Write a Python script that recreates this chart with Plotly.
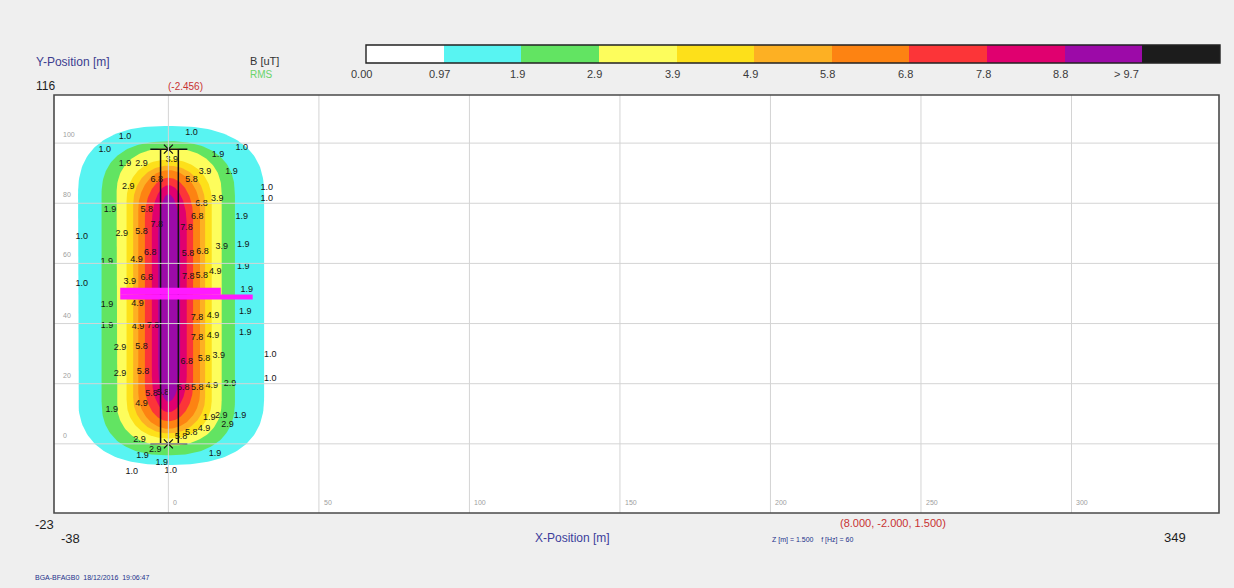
import numpy as np
import plotly.graph_objects as go

# ---- field levels (B, uT) and legend colours ----
legend_labels = ["0.00", "0.97", "1.9", "2.9", "3.9", "4.9", "5.8", "6.8", "7.8", "8.8", "> 9.7"]
legend_colors = ["#ffffff", "#58f4f2", "#62e462", "#fdfd5c", "#fde01a", "#fdb023",
                 "#fd8312", "#fc3538", "#e0006f", "#9c0aa8", "#1c1c1c"]

# ---- iso-line extents of each level boundary (metres) ----
iso_levels = [0.97, 1.9, 2.9, 3.9, 4.9, 5.8, 6.8, 7.8, 8.8]
iso_left = [-30.0, -22.2, -17.2, -13.9, -11.7, -10.0, -7.8, -5.5, -3.4]
iso_right = [31.8, 22.1, 17.7, 14.4, 12.2, 10.5, 8.2, 6.1, 3.9]
iso_top = [105.7, 100.6, 98.3, 94.5, 92.5, 91.0, 88.5, 86.0, 83.0]
iso_bottom = [-7.0, -3.8, -0.6, 1.8, 3.5, 5.0, 7.5, 10.5, 14.0]
iso_cap_top = [23, 18, 15, 14, 13, 13, 13, 13, 14]
iso_cap_bottom = [23, 18, 15, 13, 12, 12, 12, 12, 12]
iso_square = [2.5, 2.4, 2.3, 2.2, 2.1, 2.0, 2.0, 2.0, 2.0]

# ---- conductor geometry ----
wire_x = [-2.6, 3.3]
wire_y = [0.0, 98.0]
crossbar_x = [-6.0, 6.3]

# ---- profile line ----
profile_y = [50.7, 48.8]
profile_x_start = -16.0
profile_x_end = [17.4, 28.0]

# ---- iso-value labels on the map (text, x, y) ----
iso_labels = [
    ("1.0", -14.4, 102.1), ("1.0", 7.7, 103.3), ("1.0", -21.1, 97.7), ("1.0", 24.4, 98.3),
    ("1.9", -14.4, 93.3), ("2.9", -8.9, 93.3), ("3.9", 1.1, 94.4), ("1.9", 16.5, 96.1),
    ("3.9", 12.2, 90.5), ("1.9", 21.0, 90.5), ("2.9", -13.3, 85.5), ("6.8", -3.9, 87.7),
    ("5.8", 7.7, 87.7), ("1.0", 32.7, 85.0), ("1.0", 32.7, 81.6), ("3.9", 16.2, 81.6),
    ("6.8", 11.0, 80.0), ("5.8", -7.2, 77.8), ("1.9", -19.4, 77.8), ("1.9", 24.4, 75.5),
    ("6.8", 9.6, 75.5), ("7.8", 6.0, 72.0), ("7.8", -3.9, 72.8), ("1.0", -28.8, 68.9),
    ("2.9", -15.5, 70.0), ("5.8", -8.9, 70.5), ("1.9", 24.9, 66.1), ("3.9", 17.7, 65.6),
    ("6.8", 11.3, 64.0), ("5.8", 6.5, 63.2), ("6.8", -6.0, 63.6), ("4.9", -10.6, 61.2),
    ("1.9", -20.5, 60.6), ("1.9", 24.9, 58.9), ("1.0", -28.8, 53.4), ("3.9", -12.8, 53.9),
    ("6.8", -7.2, 55.3), ("7.8", 6.6, 55.4), ("5.8", 11.1, 56.0), ("4.9", 15.6, 57.2),
    ("1.9", 26.0, 51.2), ("1.9", -20.4, 46.2), ("4.9", -10.3, 46.7), ("7.8", 9.5, 41.9),
    ("4.9", 14.8, 42.5), ("1.9", 25.5, 43.9), ("1.9", -20.4, 39.4), ("4.9", -10.1, 39.0),
    ("7.8", -5.1, 39.3), ("7.8", 9.5, 35.2), ("4.9", 14.8, 35.8), ("1.9", 25.5, 36.9),
    ("2.9", -16.1, 31.8), ("5.8", -8.9, 32.3), ("6.8", 6.1, 27.2), ("5.8", 11.8, 28.2),
    ("3.9", 16.7, 29.2), ("1.0", 33.8, 29.5), ("2.9", -16.1, 23.4), ("5.8", -8.4, 24.0),
    ("1.0", 33.8, 21.8), ("5.8", 4.9, 18.5), ("5.8", 9.6, 18.8), ("4.9", 14.4, 19.4),
    ("2.9", 20.5, 20.1), ("5.8", -5.6, 16.6), ("5.8", -1.8, 16.9), ("4.9", -8.9, 13.4),
    ("1.9", -18.8, 11.3), ("1.9", 13.6, 8.8), ("2.9", 17.6, 9.4), ("2.9", 19.6, 6.2),
    ("1.9", 23.8, 9.4), ("4.9", 11.8, 5.0), ("5.8", 7.6, 3.6), ("5.8", 4.2, 2.2),
    ("2.9", -9.6, 1.2), ("2.9", -4.4, -1.9), ("1.9", -8.6, -4.1), ("1.9", 15.5, -3.2),
    ("1.9", -2.2, -6.3), ("1.0", -12.2, -9.3), ("1.0", 0.8, -8.9),
]
lbl_text = [t for t, _, _ in iso_labels]
lbl_x = [x for _, x, _ in iso_labels]
lbl_y = [y for _, _, y in iso_labels]

# ---- axes ----
x_min, x_max = -38, 349
y_min, y_max = -23, 116
x_grid = [0, 50, 100, 150, 200, 250, 300]
y_grid = [0, 20, 40, 60, 80, 100]

W, H = 1234, 588
plot_px = dict(left=54, right=1219, top=95, bottom=513)
bar_px = dict(left=366, right=1220, top=45, bottom=63)


def px_x(p):
    return p / W


def px_y(p):
    return 1 - p / H


def iso_outline(i):
    """Closed outline of one iso-level: straight flanks with rounded end caps."""
    p = 2.0 / iso_square[i]
    L, R = iso_left[i], iso_right[i]
    ys_top = iso_top[i] - iso_cap_top[i]
    ys_bot = iso_bottom[i] + iso_cap_bottom[i]
    t1 = np.linspace(0, np.pi, 90)
    c, s = np.cos(t1), np.sin(t1)
    xt = np.where(c >= 0, R, -L) * np.sign(c) * np.abs(c) ** p
    yt = ys_top + iso_cap_top[i] * np.abs(s) ** p
    t2 = np.linspace(np.pi, 2 * np.pi, 90)
    c, s = np.cos(t2), np.sin(t2)
    xb = np.where(c >= 0, R, -L) * np.sign(c) * np.abs(c) ** p
    yb = ys_bot - iso_cap_bottom[i] * np.abs(s) ** p
    xs = np.concatenate([xt, xb, xt[:1]])
    ys = np.concatenate([yt, yb, yt[:1]])
    return xs, ys


fig = go.Figure()

# filled iso-bands, outermost first
for i in range(len(iso_levels)):
    xs, ys = iso_outline(i)
    fig.add_trace(go.Scatter(x=xs, y=ys, mode="lines", fill="toself",
                             fillcolor=legend_colors[i + 1],
                             line=dict(width=0, color=legend_colors[i + 1]),
                             hoverinfo="skip", showlegend=False))

# conductor
for wx in wire_x:
    fig.add_trace(go.Scatter(x=[wx, wx], y=wire_y, mode="lines",
                             line=dict(color="#111111", width=1.5),
                             hoverinfo="skip", showlegend=False))
for wy in wire_y:
    fig.add_trace(go.Scatter(x=crossbar_x, y=[wy, wy], mode="lines",
                             line=dict(color="#111111", width=1.5),
                             hoverinfo="skip", showlegend=False))
fig.add_trace(go.Scatter(x=[0, 0], y=wire_y, mode="markers",
                         marker=dict(symbol="x-thin", size=9,
                                     line=dict(color="#111111", width=1.2)),
                         hoverinfo="skip", showlegend=False))

# profile line
fig.add_trace(go.Scatter(x=[profile_x_start, profile_x_end[1]], y=[profile_y[1]] * 2,
                         mode="lines", line=dict(color="#ff1aff", width=5),
                         hoverinfo="skip", showlegend=False))
fig.add_trace(go.Scatter(x=[profile_x_start, profile_x_end[0]], y=[profile_y[0]] * 2,
                         mode="lines", line=dict(color="#ff1aff", width=7),
                         hoverinfo="skip", showlegend=False))

# iso labels
fig.add_trace(go.Scatter(x=lbl_x, y=lbl_y, mode="text", text=lbl_text,
                         textfont=dict(family="Liberation Sans, Arial", size=9, color="#141414"),
                         hoverinfo="skip", showlegend=False))

# legend strip
fig.add_trace(go.Bar(x=list(range(len(legend_colors))), y=[1] * len(legend_colors),
                     marker=dict(color=legend_colors, line=dict(width=0)),
                     width=1, xaxis="x2", yaxis="y2", hoverinfo="skip", showlegend=False))

shapes = []
grid_color = "#d4d4d4"
for gx in x_grid:
    shapes.append(dict(type="line", xref="x", yref="y", x0=gx, x1=gx, y0=y_min, y1=y_max,
                       line=dict(color=grid_color, width=1), layer="above"))
for gy in y_grid:
    shapes.append(dict(type="line", xref="x", yref="y", x0=x_min, x1=x_max, y0=gy, y1=gy,
                       line=dict(color=grid_color, width=1), layer="above"))
shapes.append(dict(type="rect", xref="x domain", yref="y domain", x0=0, x1=1, y0=0, y1=1,
                   line=dict(color="#4a4a4a", width=1.6), layer="above"))
shapes.append(dict(type="rect", xref="x2 domain", yref="y2 domain", x0=0, x1=1, y0=0, y1=1,
                   line=dict(color="#222222", width=1.4), layer="above"))

annotations = []
tick_font = dict(family="Liberation Sans, Arial", size=7, color="#a0a0a0")
for gx in x_grid:
    annotations.append(dict(x=gx, y=y_min, xref="x", yref="y", text=str(gx), showarrow=False,
                            xanchor="left", yanchor="bottom", xshift=3, yshift=5, font=tick_font))
for gy in y_grid:
    annotations.append(dict(x=x_min, y=gy, xref="x", yref="y", text=str(gy), showarrow=False,
                            xanchor="left", yanchor="bottom", xshift=7, yshift=3, font=tick_font))

# legend values under the strip
for i, lab in enumerate(legend_labels):
    annotations.append(dict(x=i - 0.5, y=px_y(74), xref="x2", yref="paper", text=lab,
                            showarrow=False, xanchor="center", yanchor="middle",
                            xshift=-16 if lab.startswith(">") else -4,
                            font=dict(family="Liberation Sans, Arial", size=11, color="#3a3a3a")))


def note(text, x, y, color="#222222", size=12, anchor="left"):
    annotations.append(dict(x=px_x(x), y=px_y(y), xref="paper", yref="paper", text=text,
                            showarrow=False, xanchor=anchor, yanchor="middle",
                            font=dict(family="Liberation Sans, Arial", size=size, color=color)))


note("Y-Position [m]", 34, 62, "#3d3d8f", 12)
note("116", 34, 86, "#1e1e1e", 12)
note("(-2.456)", 185, 86, "#c83232", 10, "center")
note("B [uT]", 248, 61, "#333333", 11)
note("RMS", 248, 75, "#6ad46a", 10)
note("-23", 33, 524, "#1e1e1e", 13)
note("-38", 59, 538, "#1e1e1e", 13)
note("X-Position [m]", 572, 538, "#3d3d9c", 12, "center")
note("(8.000, -2.000, 1.500)", 893, 523, "#c83232", 11, "center")
note("Z [m] = 1.500    f [Hz] = 60", 812, 540, "#23308a", 7, "center")
note("349", 1175, 537, "#1e1e1e", 13, "center")
note("BGA-BFAGB0  18/12/2016  19:06:47", 33, 577, "#23308a", 7)

fig.update_layout(
    width=W, height=H,
    margin=dict(l=0, r=0, t=0, b=0),
    paper_bgcolor="#efefef",
    plot_bgcolor="#ffffff",
    bargap=0,
    xaxis=dict(domain=[px_x(plot_px["left"]), px_x(plot_px["right"])], range=[x_min, x_max],
               showgrid=False, zeroline=False, showticklabels=False, ticks="", fixedrange=True),
    yaxis=dict(domain=[px_y(plot_px["bottom"]), px_y(plot_px["top"])], range=[y_min, y_max],
               showgrid=False, zeroline=False, showticklabels=False, ticks="", fixedrange=True),
    xaxis2=dict(domain=[px_x(bar_px["left"]), px_x(bar_px["right"])], range=[-0.5, 10.5],
                anchor="y2", showgrid=False, zeroline=False, showticklabels=False, ticks=""),
    yaxis2=dict(domain=[px_y(bar_px["bottom"]), px_y(bar_px["top"])], range=[0, 1],
                anchor="x2", showgrid=False, zeroline=False, showticklabels=False, ticks=""),
    shapes=shapes,
    annotations=annotations,
)

fig.write_html("out.html")
